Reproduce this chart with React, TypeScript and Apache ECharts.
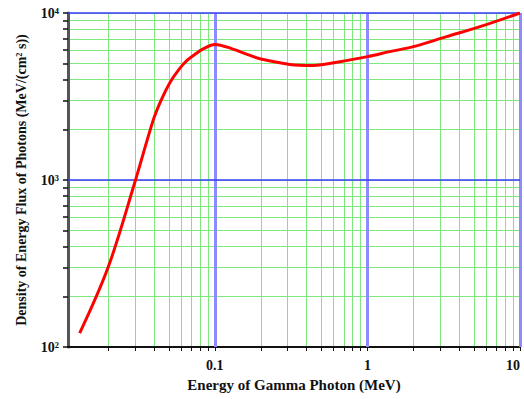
import React, { useEffect, useRef } from "react";
import * as echarts from "echarts";

const energyMeV = [0.013, 0.02, 0.03, 0.0394, 0.0444, 0.0508, 0.0582, 0.0657, 0.0753, 0.0837, 0.1, 0.13, 0.17, 0.197, 0.31, 0.44, 0.66, 1.0, 1.4, 2.0, 3.3, 5.47, 10];
const fluxDensity = [121, 301, 980, 2276, 3000, 3840, 4600, 5200, 5720, 6090, 6480, 6100, 5570, 5320, 4920, 4855, 5110, 5480, 5870, 6290, 7220, 8280, 10000];

const xMajor = [0.1, 1, 10];
const xMinor = [0.02, 0.03, 0.04, 0.05, 0.06, 0.07, 0.08, 0.09, 0.2, 0.3, 0.4, 0.5, 0.6, 0.7, 0.8, 0.9, 2, 3, 4, 5, 6, 7, 8, 9];
const yMajor = [100, 1000, 10000];
const yMinor = [200, 300, 400, 500, 600, 700, 800, 900, 2000, 3000, 4000, 5000, 6000, 7000, 8000, 9000];
const yLabels: Record<number, string> = { 100: "10²", 1000: "10³", 10000: "10⁴" };

const FONT = "Liberation Serif";

export default function App() {
  const ref = useRef<HTMLDivElement>(null);
  useEffect(() => {
    if (!ref.current) return;
    const chart = echarts.init(ref.current, undefined, { renderer: "svg" });
    const greenLine = { color: "#7ee87e", width: 1 };
    chart.setOption({
      animation: false,
      backgroundColor: "#ffffff",
      grid: { left: 68, right: 4, top: 13, bottom: 52, outerBoundsMode: "none", containLabel: false },
      xAxis: {
        type: "log",
        min: 0.0109,
        max: 10,
        name: "Energy of Gamma Photon (MeV)",
        nameLocation: "middle",
        nameGap: 30,
        nameTextStyle: { fontFamily: FONT, fontSize: 15, fontWeight: "bold", color: "#111" },
        axisLine: { show: true, lineStyle: { color: "#111", width: 2 } },
        axisTick: { show: true, inside: false, length: 4, lineStyle: { color: "#111" }, customValues: [...xMinor, ...xMajor] },
        axisLabel: {
          show: true,
          customValues: xMajor,
          margin: 11,
          fontFamily: FONT,
          fontSize: 14,
          fontWeight: "bold",
          color: "#111",
          alignMaxLabel: "right",
          formatter: (v: number) => (v < 1 ? "0.1" : String(Math.round(v))),
        },
        splitLine: { show: true, lineStyle: greenLine },
        minorTick: { show: false },
      },
      yAxis: {
        type: "log",
        min: 100,
        max: 10000,
        name: "Density of Energy Flux of Photons (MeV/(cm² s))",
        nameLocation: "middle",
        nameGap: 40,
        nameRotate: 90,
        nameTextStyle: { fontFamily: FONT, fontSize: 14, fontWeight: "bold", color: "#111" },
        axisLine: { show: true, lineStyle: { color: "#555", width: 3 } },
        axisTick: { show: true, inside: false, length: 5, lineStyle: { color: "#111", width: 1.5 }, customValues: [...yMinor, ...yMajor] },
        axisLabel: {
          show: true,
          customValues: yMajor,
          margin: 9,
          fontFamily: FONT,
          fontSize: 14,
          fontWeight: "bold",
          color: "#111",
          formatter: (v: number) => yLabels[Math.round(v)] ?? "",
        },
        splitLine: { show: true, lineStyle: greenLine },
      },
      series: [
        {
          type: "line",
          data: [],
          z: 1,
          silent: true,
          markLine: {
            silent: true,
            symbol: "none",
            label: { show: false },
            data: [
              ...xMajor.map((v) => ({ xAxis: v, lineStyle: { color: "#8c8cff", width: 3, type: "solid" } })),
              ...yMajor.slice(1).map((v) => ({ yAxis: v, lineStyle: { color: "#3a3aff", width: 1.5, type: "solid" } })),
            ],
          },
        },
        {
          type: "line",
          z: 5,
          smooth: 0.35,
          showSymbol: false,
          lineStyle: { color: "#ff0000", width: 3 },
          data: energyMeV.map((e, i) => [e, fluxDensity[i]]),
        },
      ],
    });
    return () => chart.dispose();
  }, []);
  return <div ref={ref} style={{ width: 524, height: 399, position: "absolute", left: 0, top: 0 }} />;
}
